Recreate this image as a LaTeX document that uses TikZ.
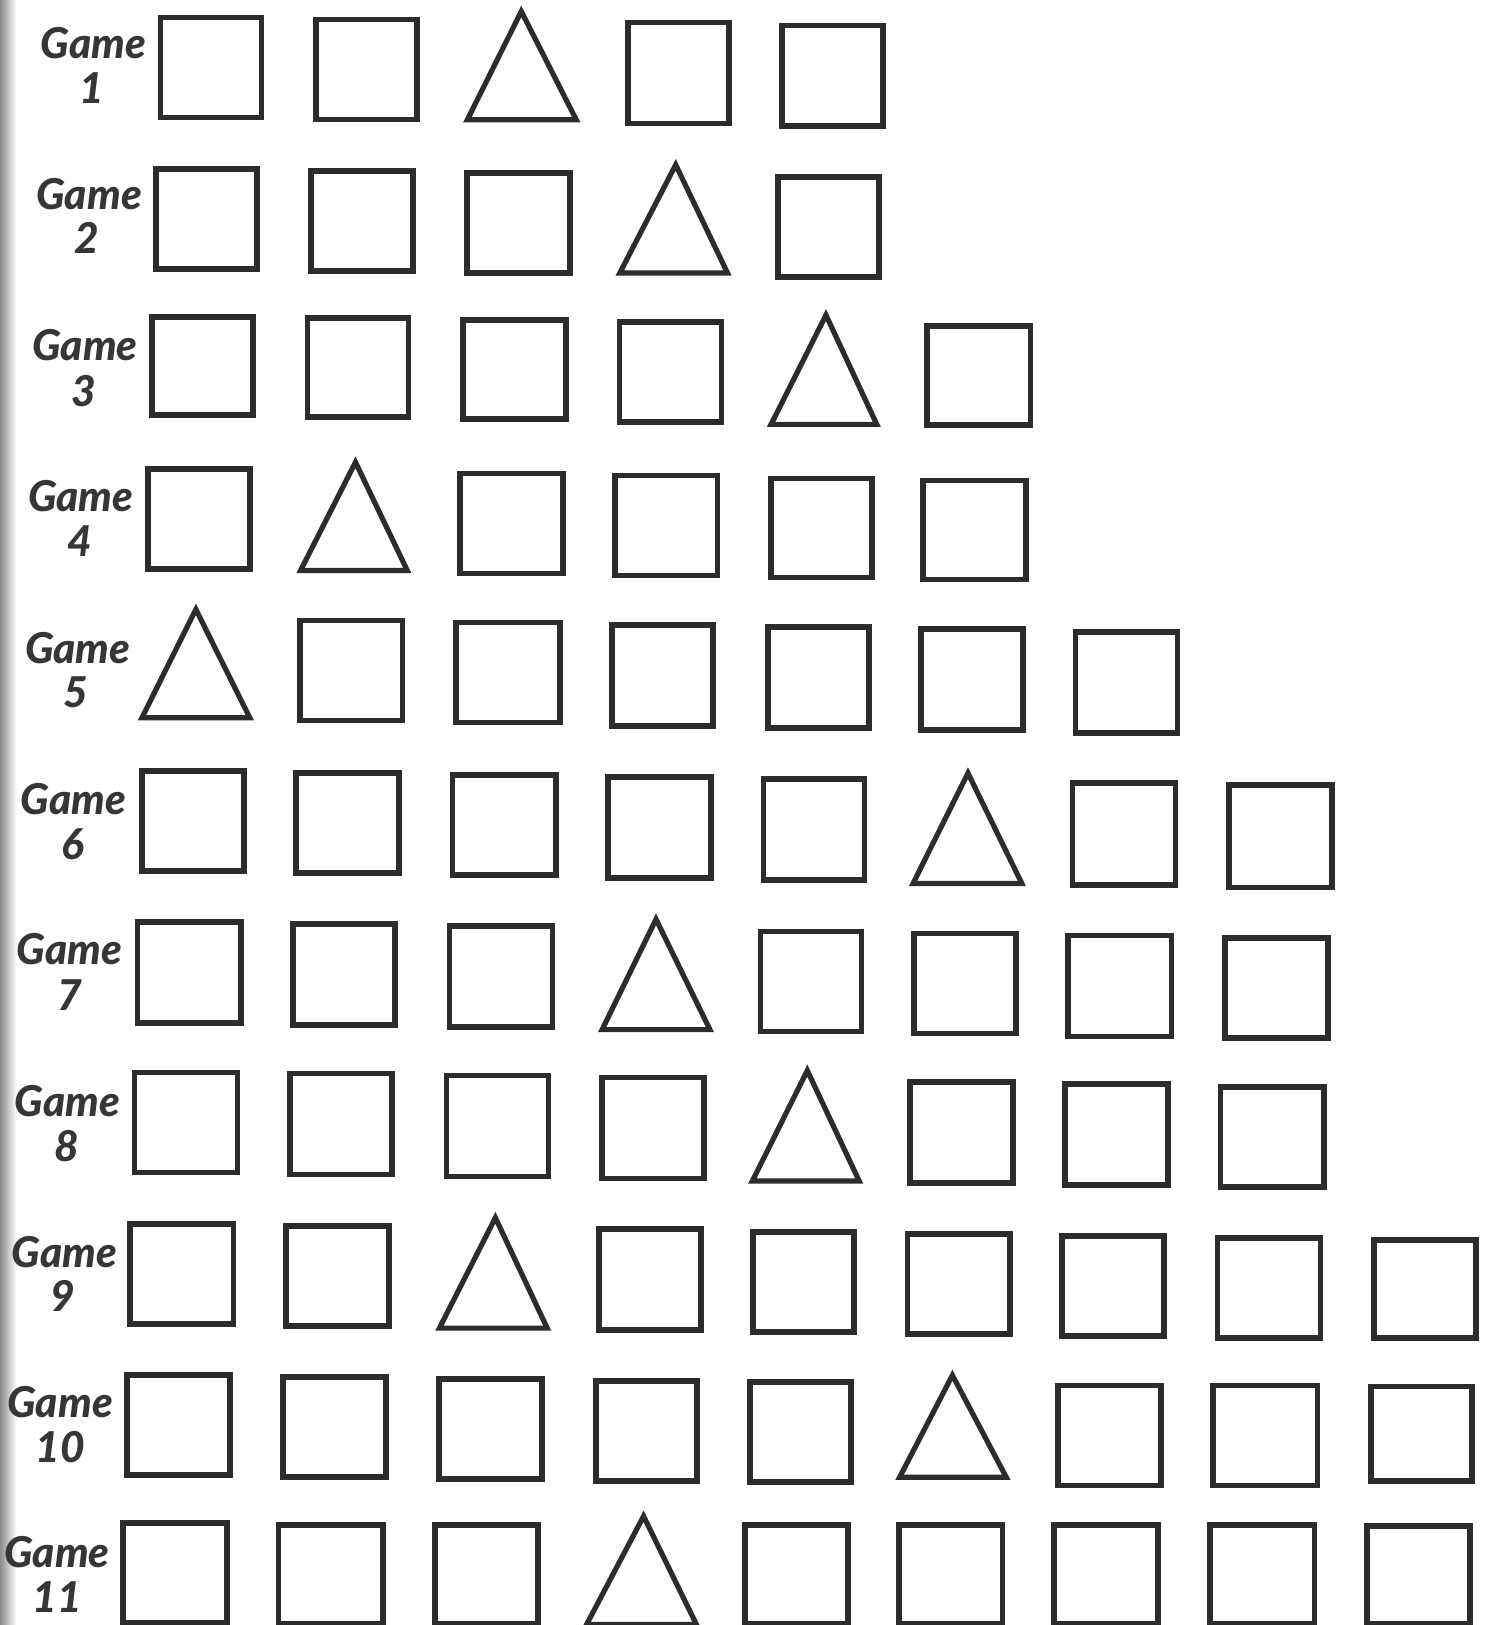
\documentclass[tikz,border=0pt]{standalone}
\usepackage{fontspec}
\setmainfont{Lato}
\newfontfamily\gamefont{Lato Black Italic}
\definecolor{ink}{HTML}{2C2C2C}
\definecolor{txt}{HTML}{363636}
\tikzset{
  sqr/.style={draw=ink, line width=5.5pt, rectangle, inner sep=0pt, outer sep=0pt},
  tri/.style={draw=ink, line width=5pt, line join=miter},
  gamelbl/.style={text=txt, font=\gamefont\fontsize{41}{43}\selectfont, inner sep=0pt},
}
% \sqbox{name}{x1}{y1}{x2}{y2}  (outer edges, display px)
\newcommand{\sqbox}[5]{\node[sqr, minimum width={(#4-#2-5.5)*1pt}, minimum height={(#5-#3-5.5)*1pt}] (#1) at ({(#2+#4)/2},{(#3+#5)/2}) {};}
% \trishape{name}{xleft}{xright}{xapex}{yapex}{ybase}
\newcommand{\trishape}[6]{\coordinate (#1) at (#4,{(#5+#6)/2}); \draw[tri] ({#2+4},{#6-2.5}) -- (#4,{#5+7}) -- ({#3-4},{#6-2.5}) -- cycle;}
\newcommand{\gamelabel}[6]{\node[gamelbl] (g#1) at (#2,#3) {Game}; \node[gamelbl] (n#1) at (#4,#5) {#6};}
\begin{document}
\begin{tikzpicture}[x=1pt,y=-1pt]
\useasboundingbox (0,0) rectangle (1440,1568);
\clip (0,0) rectangle (1440,1568);
\fill[white] (0,0) rectangle (1440,1568);
\shade[left color=black!45, right color=white] (0,0) rectangle (16,1568);
% labels
\gamelabel{1}{90}{42}{89}{85}{1}
\gamelabel{2}{86}{187}{84}{230}{2}
\gamelabel{3}{82}{333}{81}{377}{3}
\gamelabel{4}{78}{479}{77}{522}{4}
\gamelabel{5}{75}{625}{73}{668}{5}
\gamelabel{6}{71}{771}{70}{815}{6}
\gamelabel{7}{67}{916}{67}{960}{7}
\gamelabel{8}{65}{1062}{64}{1106}{8}
\gamelabel{9}{62}{1208}{61}{1250}{9}
\gamelabel{10}{58}{1353}{58}{1396}{10}
\gamelabel{11}{55}{1498}{55}{1541}{11}
% row 1
\sqbox{a1}{152}{14}{255}{116}
\sqbox{a2}{302}{16}{405}{118}
\trishape{a3}{447}{560}{503}{4}{118}
\sqbox{a4}{603}{19}{706}{122}
\sqbox{a5}{752}{22}{855}{124}
% row 2
\sqbox{b1}{148}{160}{251}{262}
\sqbox{b2}{297}{162}{401}{264}
\sqbox{b3}{448}{164}{553}{266}
\trishape{b4}{594}{706}{652}{152}{266}
\sqbox{b5}{748}{168}{851}{270}
% row 3
\sqbox{c1}{144}{303}{247}{403}
\sqbox{c2}{294}{304}{397}{405}
\sqbox{c3}{444}{306}{549}{407}
\sqbox{c4}{595}{308}{699}{410}
\trishape{c5}{740}{850}{797}{297}{412}
\sqbox{c6}{892}{312}{997}{413}
% row 4
\sqbox{d1}{140}{450}{244}{552}
\trishape{d2}{286}{397}{343}{439}{553}
\sqbox{d3}{441}{454}{546}{556}
\sqbox{d4}{591}{456}{695}{558}
\sqbox{d5}{741}{459}{844}{560}
\sqbox{d6}{888}{461}{993}{562}
% row 5
\trishape{e1}{133}{245}{189}{581}{695}
\sqbox{e2}{287}{596}{391}{698}
\sqbox{e3}{437}{598}{543}{700}
\sqbox{e4}{588}{600}{691}{703}
\sqbox{e5}{738}{602}{841}{705}
\sqbox{e6}{886}{604}{990}{707}
\sqbox{e7}{1035}{607}{1139}{710}
% row 6
\sqbox{f1}{134}{741}{238}{843}
\sqbox{f2}{283}{743}{388}{845}
\sqbox{f3}{434}{745}{539}{847}
\sqbox{f4}{584}{747}{689}{850}
\sqbox{f5}{734}{749}{837}{852}
\trishape{f6}{877}{990}{934}{739}{855}
\sqbox{f7}{1032}{753}{1137}{857}
\sqbox{f8}{1183}{755}{1288}{859}
% row 7
\sqbox{g1}{130}{887}{235}{990}
\sqbox{g2}{280}{889}{384}{992}
\sqbox{g3}{431}{891}{536}{994}
\trishape{g4}{577}{689}{633}{880}{996}
\sqbox{g5}{731}{896}{834}{998}
\sqbox{g6}{879}{898}{983}{1000}
\sqbox{g7}{1028}{900}{1133}{1003}
\sqbox{g8}{1179}{902}{1284}{1004}
% row 8
\sqbox{h1}{127}{1032}{232}{1134}
\sqbox{h2}{277}{1033}{381}{1136}
\sqbox{h3}{428}{1035}{532}{1138}
\sqbox{h4}{578}{1037}{682}{1140}
\trishape{h5}{722}{833}{779}{1026}{1142}
\sqbox{h6}{875}{1041}{980}{1144}
\sqbox{h7}{1025}{1043}{1130}{1146}
\sqbox{h8}{1175}{1046}{1280}{1148}
% row 9
\sqbox{i1}{123}{1178}{228}{1280}
\sqbox{i2}{273}{1180}{378}{1282}
\trishape{i3}{420}{532}{478}{1168}{1284}
\sqbox{i4}{575}{1183}{679}{1286}
\sqbox{i5}{724}{1186}{827}{1288}
\sqbox{i6}{873}{1188}{977}{1290}
\sqbox{i7}{1022}{1190}{1126}{1292}
\sqbox{i8}{1172}{1192}{1277}{1294}
\sqbox{i9}{1323}{1194}{1427}{1294}
% row 10
\sqbox{j1}{120}{1324}{225}{1426}
\sqbox{j2}{270}{1326}{375}{1428}
\sqbox{j3}{421}{1328}{526}{1430}
\sqbox{j4}{572}{1330}{675}{1432}
\sqbox{j5}{721}{1331}{824}{1433}
\trishape{j6}{864}{975}{919}{1320}{1428}
\sqbox{j7}{1018}{1334}{1123}{1436}
\sqbox{j8}{1168}{1334}{1274}{1436}
\sqbox{j9}{1320}{1335}{1423}{1432}
% row 11
\sqbox{k1}{116}{1467}{222}{1569}
\sqbox{k2}{266}{1469}{372}{1570}
\sqbox{k3}{417}{1469}{522}{1570}
\trishape{k4}{562}{676}{621}{1456}{1570}
\sqbox{k5}{716}{1469}{821}{1570}
\sqbox{k6}{865}{1469}{970}{1570}
\sqbox{k7}{1014}{1469}{1120}{1570}
\sqbox{k8}{1165}{1469}{1271}{1570}
\sqbox{k9}{1316}{1470}{1421}{1570}
\end{tikzpicture}
\end{document}
